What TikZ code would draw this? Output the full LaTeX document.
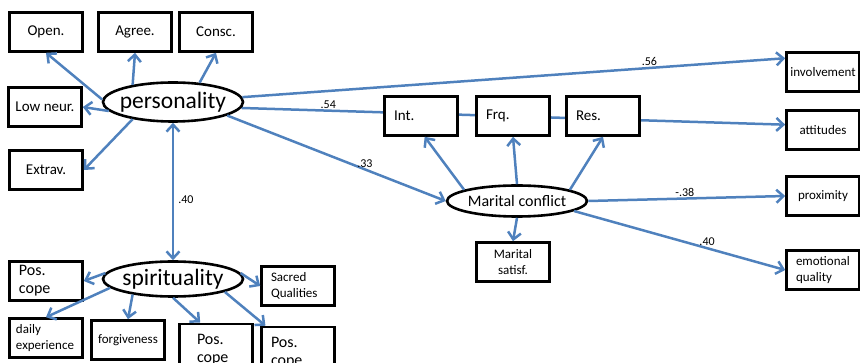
\documentclass[tikz,border=0pt]{standalone}
\usepackage{fontspec}
\setmainfont{Carlito}
\usetikzlibrary{shapes.geometric}
\usetikzlibrary{arrows.meta}
\usetikzlibrary{backgrounds}
\definecolor{linkblue}{HTML}{4F81BD}
\tikzset{
  box/.style={rectangle,draw,fill=white,line width=2.6pt,minimum width=73pt,minimum height=39pt,inner sep=1pt,font=\fontsize{15}{17}\selectfont},
  lbox/.style={box,text width=54pt,align=left},
  sbox/.style={box,font=\fontsize{13}{16}\selectfont},
  latent/.style={ellipse,draw,fill=white,line width=2.6pt,inner xsep=-14pt,inner ysep=0pt,minimum width=140pt},
  link/.style={draw=linkblue,line width=2.5pt,->},
  coef/.style={font=\fontsize{12}{14}\selectfont,inner sep=1pt}
}
\begin{document}
\begin{tikzpicture}[x=1pt,y=-1pt,>={Straight Barb[length=7pt,width=13pt]}]
		\useasboundingbox (0,0) rectangle (860,363);
		\clip (0,0) rectangle (860,363);
		\path (173,102) node(pers)[latent,minimum height=39pt,font=\fontsize{23.5}{26}\selectfont]{personality}
		(173,279) node(spir)[latent,minimum height=35pt,font=\fontsize{23.5}{26}\selectfont]{spirituality}
		(517,201) node(mc)[latent,minimum height=31pt,font=\fontsize{16}{18}\selectfont]{Marital conflict}
		(46,32) node(open)[box]{Open.}
		(135,32) node(agree)[box]{Agree.}
		(216,32) node(consc)[box]{Consc.}
		(45,107) node(neur)[box]{Low neur.}
		(46,170) node(extra)[box]{Extrav.}
		(46,281) node(pcope)[lbox,font=\fontsize{16}{18}\selectfont]{Pos.\\cope}
		(298,286) node(sacred)[lbox,font=\fontsize{13}{16}\selectfont]{Sacred\\Qualities}
		(46,338) node(daily)[lbox,text width=60pt,font=\fontsize{13}{16}\selectfont]{daily\\experience}
		(128,340) node(forg)[sbox]{forgiveness}
		(216,350) node(pcopeb)[lbox,text width=38pt,minimum height=52pt,font=\fontsize{16}{18}\selectfont]{Pos.\\cope}
		(298,353) node(pcopec)[lbox,minimum height=52pt,font=\fontsize{16}{18}\selectfont]{Pos.\\cope}
		(421,116) node(int)[lbox]{Int.}
		(513,116) node(frq)[lbox]{Frq.}
		(603,116) node(res)[lbox]{Res.}
		(513,262) node(msat)[sbox,align=center]{Marital\\satisf.}
		(823,72) node(inv)[sbox]{involvement}
		(823,130) node(att)[sbox]{attitudes}
		(823,196) node(prox)[sbox]{proximity}
		(823,270) node(emo)[lbox,font=\fontsize{13}{16}\selectfont]{emotional\\quality};
		\draw[link] (pers.178) -- (open.south);
		\draw[link] (pers.157) -- (agree.south);
		\draw[link] (pers.36) -- (consc.south);
		\draw[link] (pers.188) -- (neur.east);
		\draw[link] (pers.203) -- (extra.east);
		\draw[link,<->] (pers.south) -- node[coef,right=3pt,pos=.56]{.40} (spir.north);
		\draw[link] (pers.4) -- node[coef,above,pos=.75]{.56} (inv.160);
		\begin{scope}[on background layer]
		\draw[link] (pers.-5) -- node[coef,above,pos=.16]{.54} (att.172);
		\end{scope}
		\draw[link] (pers.-14) -- node[coef,above,pos=.63]{.33} (mc.west);
		\draw[link] (mc.168) -- (int.-80);
		\draw[link] (mc.north) -- (frq.south);
		\draw[link] (mc.12) -- (res.south);
		\draw[link] (mc.south) -- (msat.north);
		\draw[link] (mc.east) -- node[coef,above,pos=.49]{-.38} (prox.west);
		\draw[link] (mc.-10) -- node[coef,above,pos=.63]{.40} (emo.west);
		\draw[link] (spir.175) -- (pcope.east);
		\draw[link] (spir.188) -- (daily.north);
		\draw[link] (spir.201) -- (forg.north);
		\draw[link] (spir.south) -- (pcopeb.120);
		\draw[link] (spir.-14) -- (pcopec.140);
		\draw[link] (spir.5) -- (sacred.west);
	\end{tikzpicture}
\end{document}
